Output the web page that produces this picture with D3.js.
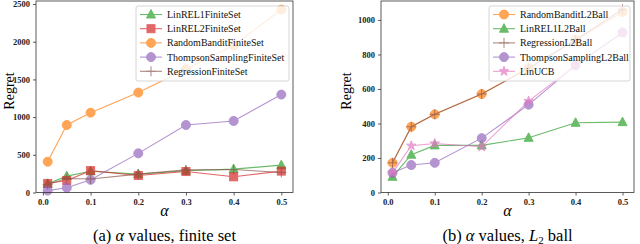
<!DOCTYPE html>
<html>
<head>
<style>
body { margin: 0; background: #fff; }
svg { display: block; }
</style>
</head>
<body>
<script src="https://cdnjs.cloudflare.com/ajax/libs/d3/7.8.5/d3.min.js"></script>
<script>
// alpha values on the x axis (both panels)
var alphas = [0.01, 0.05, 0.1, 0.2, 0.3, 0.4, 0.5]

// panel (a) finite set
var finiteNames = ["LinREL1FiniteSet", "LinREL2FiniteSet", "RandomBanditFiniteSet", "ThompsonSamplingFiniteSet", "RegressionFiniteSet"]
var linrel1Finite = [115, 217, 282, 244, 288, 310, 363]
var linrel2Finite = [120, 160, 290, 226, 278, 208, 284]
var randomFinite = [408, 895, 1059, 1325, 1636, 1950, 2425]
var thompsonFinite = [25, 62, 168, 519, 895, 949, 1299]
var regressionFinite = [106, 186, 180, 244, 300, 305, 266]
var finiteTicks = [0, 500, 1000, 1500, 2000, 2500]

// panel (b) L2 ball
var ballNames = ["RandomBanditL2Ball", "LinREL1L2Ball", "RegressionL2Ball", "ThompsonSamplingL2Ball", "LinUCB"]
var randomBall = [172, 381, 453, 571, 721, 884, 1046]
var linrel1Ball = [91, 219, 273, 273, 317, 404, 408]
var regressionBall = [172, 381, 453, 571, 721, 884, 1062]
var thompsonBall = [114, 159, 172, 315, 509, 737, 928]
var linucbBall = [114, 271, 284, 265, 530, 737, 925]
var ballTicks = [0, 200, 400, 600, 800, 1000]

var xTicks = [0.0, 0.1, 0.2, 0.3, 0.4, 0.5]

var svg = d3.select("body").append("svg")
  .attr("width", 640)
  .attr("height", 244)

var serif = "'Liberation Serif', 'DejaVu Serif', serif"

// marker shapes, drawn centred on 0,0
function marker(g, type, color) {
  var s = 4.5
  if (type == "circle") {
    g.append("circle").attr("r", s).attr("fill", color).attr("stroke", color).attr("stroke-width", 1)
  } else if (type == "square") {
    g.append("rect").attr("x", -s + 0.5).attr("y", -s + 0.5).attr("width", 2 * s - 1).attr("height", 2 * s - 1)
      .attr("fill", color).attr("stroke", color).attr("stroke-width", 1)
  } else if (type == "triangle") {
    g.append("path").attr("d", "M0," + (-s - 0.5) + " L" + (s) + "," + (s - 1) + " L" + (-s) + "," + (s - 1) + " Z")
      .attr("fill", color).attr("stroke", color).attr("stroke-width", 1)
  } else if (type == "plus") {
    g.append("path").attr("d", "M" + (-s - 0.5) + ",0 h" + (2 * s + 1) + " M0," + (-s - 0.5) + " v" + (2 * s + 1))
      .attr("stroke", color).attr("stroke-width", 1).attr("fill", "none")
  } else if (type == "star") {
    var pts = []
    for (var k = 0; k < 10; k++) {
      var r = k % 2 == 0 ? s + 0.5 : (s + 0.5) * 0.4
      var a = -Math.PI / 2 + k * Math.PI / 5
      pts.push([r * Math.cos(a), r * Math.sin(a)])
    }
    g.append("path").attr("d", "M" + pts.join("L") + "Z")
      .attr("fill", color).attr("stroke", color).attr("stroke-width", 1)
  }
}

function panel(opt) {
  var x = d3.scaleLinear().domain([-0.0145, 0.5245]).range([opt.left, opt.right])
  var y = d3.scaleLinear().domain([0, opt.ymax]).range([opt.bottom, opt.top])

  var g = svg.append("g")

  // series
  opt.series.forEach(function (s) {
    var sg = g.append("g").attr("opacity", 0.7)
    var line = d3.line().x(function (d, i) { return x(alphas[i]) }).y(function (d) { return y(d) })
    sg.append("path").attr("d", line(s.values)).attr("fill", "none")
      .attr("stroke", s.color).attr("stroke-width", 1.1)
    s.values.forEach(function (v, i) {
      var m = sg.append("g").attr("transform", "translate(" + x(alphas[i]) + "," + y(v) + ")")
      marker(m, s.marker, s.color)
    })
  })

  // frame
  g.append("rect").attr("x", opt.left).attr("y", opt.top)
    .attr("width", opt.right - opt.left).attr("height", opt.bottom - opt.top)
    .attr("fill", "none").attr("stroke", "#333").attr("stroke-width", 0.8)

  // axes
  var xa = g.append("g").attr("transform", "translate(0," + opt.bottom + ")")
    .call(d3.axisBottom(x).tickValues(xTicks).tickFormat(d3.format(".1f")).tickSize(3).tickPadding(3))
  var ya = g.append("g").attr("transform", "translate(" + opt.left + ",0)")
    .call(d3.axisLeft(y).tickValues(opt.yTicks).tickFormat(d3.format("d")).tickSize(3).tickPadding(3))
  ;[xa, ya].forEach(function (a) {
    a.select(".domain").remove()
    a.selectAll("line").attr("stroke", "#333").attr("stroke-width", 0.8)
    a.selectAll("text").attr("font-family", serif).attr("font-size", 8.5).attr("font-weight", "bold").attr("fill", "#222")
  })

  // axis labels
  g.append("text").attr("x", (opt.left + opt.right) / 2).attr("y", 216)
    .attr("text-anchor", "middle").attr("font-family", serif).attr("font-style", "italic")
    .attr("font-size", 16).text("α")
  g.append("text").attr("transform", "translate(" + opt.ylabX + "," + 91 + ") rotate(-90)")
    .attr("text-anchor", "middle").attr("font-family", serif).attr("font-size", 14).text("Regret")

  // caption
  var cap = g.append("text").attr("x", (opt.left + opt.right) / 2).attr("y", 240.5)
    .attr("text-anchor", "middle").attr("font-family", serif).attr("font-size", 16.5)
  cap.append("tspan").text(opt.capPrefix)
  cap.append("tspan").attr("font-style", "italic").text("α")
  cap.append("tspan").text(" values, ")
  opt.capTail(cap)

  // legend
  var lx = opt.legLeft, ly = 6, lw = opt.right - 4 - opt.legLeft, lh = 75
  g.append("rect").attr("x", lx).attr("y", ly).attr("width", lw).attr("height", lh)
    .attr("rx", 2).attr("fill", "white").attr("fill-opacity", 0.8)
    .attr("stroke", "#ccc").attr("stroke-width", 0.8)
  opt.series.forEach(function (s, i) {
    var ry = ly + 8.5 + i * 14.2
    var eg = g.append("g").attr("opacity", 0.7)
    eg.append("line").attr("x1", lx + 4).attr("x2", lx + 26).attr("y1", ry).attr("y2", ry)
      .attr("stroke", s.color).attr("stroke-width", 1.1)
    var m = eg.append("g").attr("transform", "translate(" + (lx + 15) + "," + ry + ")")
    marker(m, s.marker, s.color)
    g.append("text").attr("x", lx + 31).attr("y", ry + 3.5)
      .attr("font-family", serif).attr("font-size", 10).attr("fill", "#111").text(s.name)
  })
}

panel({
  left: 36, right: 293, top: 1, bottom: 192.5, ymax: 2540, yTicks: finiteTicks,
  ylabX: 14, legLeft: 136, capPrefix: "(a) ",
  capTail: function (cap) { cap.append("tspan").text("finite set") },
  series: [
    { name: finiteNames[0], values: linrel1Finite, color: "#2ca02c", marker: "triangle" },
    { name: finiteNames[1], values: linrel2Finite, color: "#d62728", marker: "square" },
    { name: finiteNames[2], values: randomFinite, color: "#ff7f0e", marker: "circle" },
    { name: finiteNames[3], values: thompsonFinite, color: "#9467bd", marker: "circle" },
    { name: finiteNames[4], values: regressionFinite, color: "#8c564b", marker: "plus" }
  ]
})

panel({
  left: 381, right: 634, top: 1, bottom: 192.5, ymax: 1110, yTicks: ballTicks,
  ylabX: 351, legLeft: 489, capPrefix: "(b) ",
  capTail: function (cap) {
    cap.append("tspan").attr("font-style", "italic").text("L")
    cap.append("tspan").attr("font-size", 11).attr("dy", 3).text("2")
    cap.append("tspan").attr("dy", -3).text(" ball")
  },
  series: [
    { name: ballNames[0], values: randomBall, color: "#ff7f0e", marker: "circle" },
    { name: ballNames[1], values: linrel1Ball, color: "#2ca02c", marker: "triangle" },
    { name: ballNames[2], values: regressionBall, color: "#8c564b", marker: "plus" },
    { name: ballNames[3], values: thompsonBall, color: "#9467bd", marker: "circle" },
    { name: ballNames[4], values: linucbBall, color: "#e377c2", marker: "star" }
  ]
})
</script>
</body>
</html>
